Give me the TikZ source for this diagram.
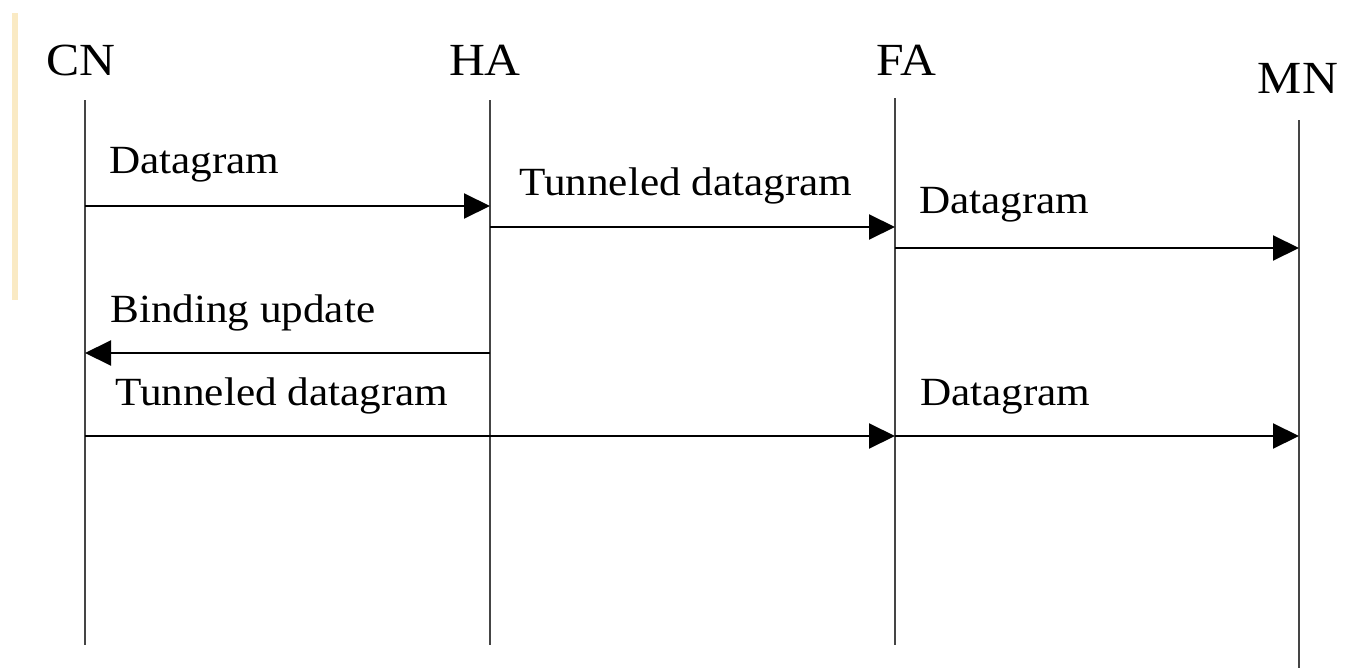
\documentclass[tikz,border=0pt]{standalone}
\usepackage{fontspec}
\setmainfont[FakeStretch=1.08]{Liberation Serif}
\usetikzlibrary{arrows.meta}
\definecolor{lifegray}{rgb}{0.27,0.27,0.27}
\definecolor{edgebar}{RGB}{250,234,196}
\begin{document}
\begin{tikzpicture}[x=1pt,y=-1pt,
  hdr/.style={inner sep=0pt,anchor=base,font=\fontsize{46}{50}\selectfont},
  msglabel/.style={inner sep=0pt,anchor=base west,font=\fontsize{40}{44}\selectfont},
  lifeline/.style={draw=lifegray,line width=1.8pt},
  msg/.style={draw=black,line width=2pt,-{Triangle[length=26pt,width=25pt]}}]
  \useasboundingbox (0,0) rectangle (1352,669);
  % faint margin bar on the left
  \fill[edgebar] (12,13) rectangle (18,300);

  % participants
  \node[hdr] (cn) at (81,75) {CN};
  \node[hdr] (ha) at (485,75) {HA};
  \node[hdr] (fa) at (906,76) {FA};
  \node[hdr] (mn) at (1298,93) {MN};

  % lifeline ends
  \coordinate (cnT) at (85,100);  \coordinate (cnB) at (85,645);
  \coordinate (haT) at (490,100); \coordinate (haB) at (490,645);
  \coordinate (faT) at (895,98);  \coordinate (faB) at (895,645);
  \coordinate (mnT) at (1299,120);\coordinate (mnB) at (1299,668);
  \draw[lifeline] (cnT) -- (cnB);
  \draw[lifeline] (haT) -- (haB);
  \draw[lifeline] (faT) -- (faB);
  \draw[lifeline] (mnT) -- (mnB);

  % message end points on the lifelines
  \coordinate (m1a) at (85,206);  \coordinate (m1b) at (490,206);
  \coordinate (m2a) at (490,227); \coordinate (m2b) at (895,227);
  \coordinate (m3a) at (895,248); \coordinate (m3b) at (1299,248);
  \coordinate (m4a) at (490,353); \coordinate (m4b) at (85,353);
  \coordinate (m5a) at (85,436);  \coordinate (m5b) at (895,436);
  \coordinate (m6a) at (895,436); \coordinate (m6b) at (1299,436);

  \draw[msg] (m1a) -- (m1b);
  \draw[msg] (m2a) -- (m2b);
  \draw[msg] (m3a) -- (m3b);
  \draw[msg] (m4a) -- (m4b);
  \draw[msg] (m5a) -- (m5b);
  \draw[msg] (m6a) -- (m6b);

  % message labels
  \node[msglabel] (l1) at (109,173) {Datagram};
  \node[msglabel] (l2) at (519,195) {Tunneled datagram};
  \node[msglabel] (l3) at (919,213) {Datagram};
  \node[msglabel] (l4) at (110,322) {Binding update};
  \node[msglabel] (l5) at (115,405) {Tunneled datagram};
  \node[msglabel] (l6) at (920,405) {Datagram};
\end{tikzpicture}
\end{document}
